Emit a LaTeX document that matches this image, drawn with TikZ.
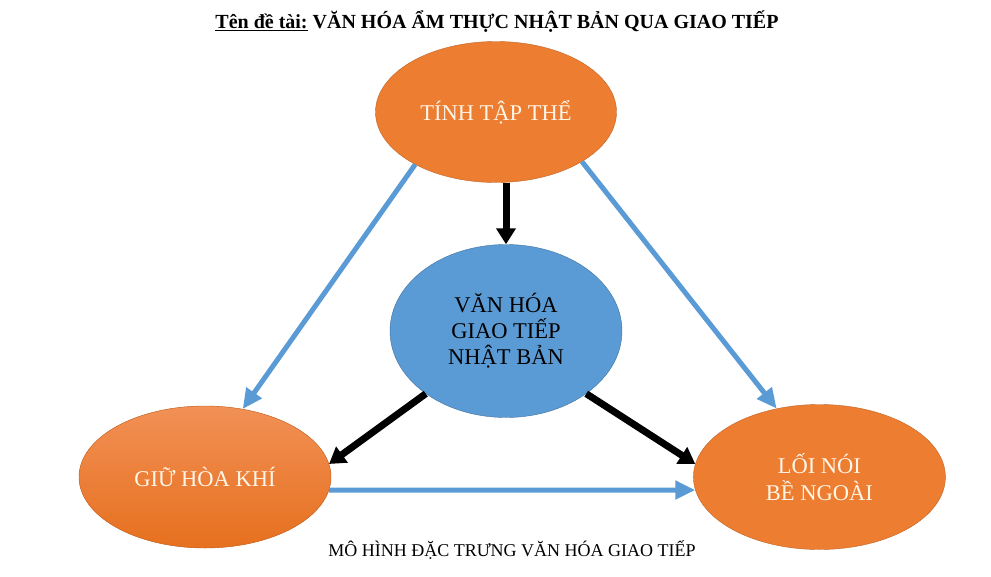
\documentclass[tikz,border=0pt]{standalone}
\usepackage{fontspec}
\setmainfont{Liberation Serif}
\usetikzlibrary{shapes.geometric, arrows.meta, positioning}
\definecolor{orangefill}{RGB}{237, 125, 49}
\definecolor{orangelight}{RGB}{242, 144, 86}
\definecolor{orangedark}{RGB}{230, 112, 30}
\definecolor{orangeedge}{RGB}{190, 100, 40}
\definecolor{bluefill}{RGB}{91, 155, 213}
\definecolor{blueedge}{RGB}{65, 113, 156}
\definecolor{linkblue}{RGB}{91, 155, 213}
\definecolor{creamtext}{RGB}{255, 246, 232}
\tikzset{
    topic/.style={ellipse, draw=orangeedge, fill=orangefill, text=creamtext, thin, inner sep=0pt, align=center, font=\fontsize{22.5}{27}\selectfont},
    core/.style={ellipse, draw=blueedge, fill=bluefill, text=black, thin, inner sep=0pt, align=center, font=\fontsize{22.5}{26}\selectfont},
    linkarrow/.style={-{Triangle[length=20pt, width=18pt]}, linkblue, line width=5pt},
    pusharrow/.style={-{Triangle[length=16pt, width=19pt]}, black, line width=7pt}
}

\begin{document}
\begin{tikzpicture}[x=1pt, y=-1pt]
    \useasboundingbox (0,0) rectangle (991,576);
    \node (title) at (497,22) [font=\fontsize{20}{22}\selectfont\bfseries] {\underline{Tên đề tài:} VĂN HÓA ẨM THỰC NHẬT BẢN QUA GIAO TIẾP};

    \node (core) at (506,331) [core, minimum width=232pt, minimum height=173pt] {VĂN HÓA\\GIAO TIẾP\\NHẬT BẢN};
    \node (group) at (496,112) [topic, minimum width=241pt, minimum height=141pt] {TÍNH TẬP THỂ};
    \node (harmony) at (205,477) [topic, minimum width=252pt, minimum height=142pt, top color=orangelight, bottom color=orangedark] {GIỮ HÒA KHÍ};
    \node (outward) [topic, right=362pt of harmony, minimum width=252pt, minimum height=145pt] {LỐI NÓI\\BỀ NGOÀI};

    \node (caption) at (512,550) [font=\fontsize{18}{20}\selectfont] {MÔ HÌNH ĐẶC TRƯNG VĂN HÓA GIAO TIẾP};

    \draw [pusharrow] (group.south -| core.north) -- (core.north);
    \draw [pusharrow] (core.218) -- (harmony.6);
    \draw [pusharrow] (core.322) -- (outward.174);

    \draw [linkarrow] (group.213) -- (harmony.61);
    \draw [linkarrow] (group.-30) -- (outward.122);
    \draw [linkarrow] (harmony.-6) -- (outward.186);
\end{tikzpicture}
\end{document}
